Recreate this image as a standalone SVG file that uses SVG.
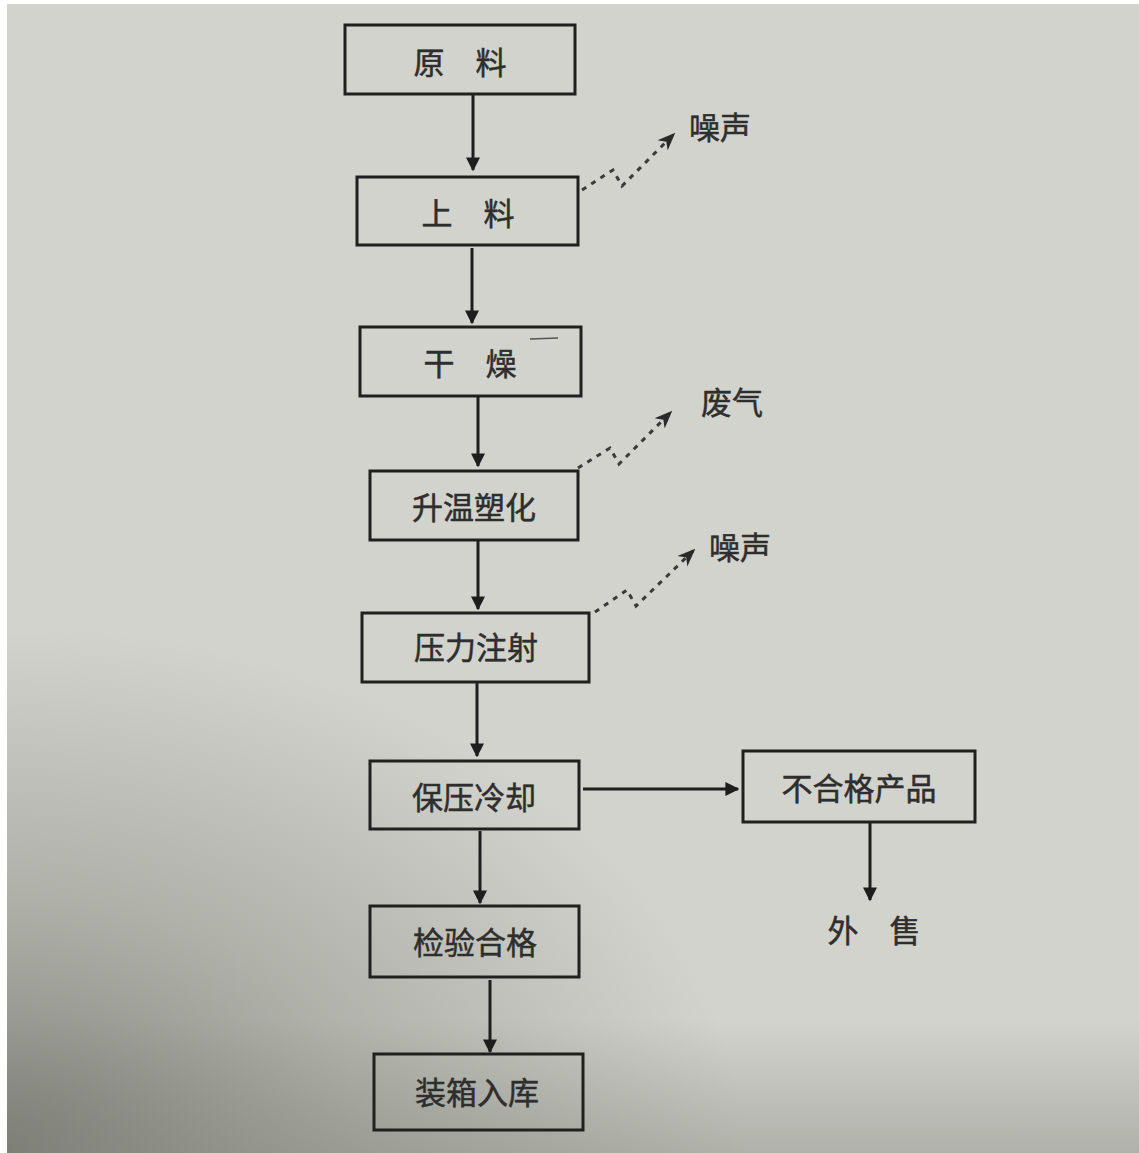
<svg xmlns="http://www.w3.org/2000/svg" width="1139" height="1153" viewBox="0 0 1139 1153">
<defs>
<radialGradient id="shade" cx="0" cy="1153" r="620" gradientUnits="userSpaceOnUse" gradientTransform="translate(0 1153) scale(1.2 0.85) translate(0 -1153)">
<stop offset="0" stop-color="#6f7069" stop-opacity="0.85"/>
<stop offset="0.5" stop-color="#7d7e76" stop-opacity="0.4"/>
<stop offset="1" stop-color="#7d7e76" stop-opacity="0"/>
</radialGradient>
<linearGradient id="bottom" x1="0" y1="1020" x2="0" y2="1153" gradientUnits="userSpaceOnUse">
<stop offset="0" stop-color="#7d7e76" stop-opacity="0"/>
<stop offset="1" stop-color="#7d7e76" stop-opacity="0.4"/>
</linearGradient>
<marker id="ah" viewBox="0 0 10 10" refX="9" refY="5" markerWidth="14" markerHeight="14" markerUnits="userSpaceOnUse" orient="auto">
<path d="M0,0 L10,5 L0,10 Z" fill="#1e1e1e"/>
</marker>
<marker id="ahd" viewBox="0 0 10 10" refX="9" refY="5" markerWidth="18" markerHeight="18" markerUnits="userSpaceOnUse" orient="auto">
<path d="M0,1 L10,5 L0,9 L3,5 Z" fill="#2a2a2a"/>
</marker>
<style>
.box{fill:none;stroke:#202020;stroke-width:3}
.t{font-family:"Noto Sans CJK SC","Noto Sans CJK JP",sans-serif;font-size:31px;fill:#2e2e2e;stroke:#2e2e2e;stroke-width:0.5;text-anchor:middle;dominant-baseline:central}
.ln{stroke:#1e1e1e;stroke-width:3;fill:none;marker-end:url(#ah)}
.dl{stroke:#3a3a3a;stroke-width:3;fill:none;stroke-dasharray:5 6;marker-end:url(#ahd)}
</style>
</defs>
<rect x="0" y="0" width="1139" height="1153" fill="#ffffff"/>
<rect x="7" y="4" width="1132" height="1149" fill="#d2d3cc"/>
<rect x="7" y="4" width="1132" height="1149" fill="url(#shade)"/>
<rect x="7" y="1020" width="1132" height="133" fill="url(#bottom)"/>

<g id="connectors">
<line class="ln" x1="473" y1="95" x2="473" y2="170"/>
<line class="ln" x1="472" y1="248" x2="472" y2="323"/>
<line class="ln" x1="478" y1="397" x2="478" y2="466"/>
<line class="ln" x1="478" y1="541" x2="478" y2="609"/>
<line class="ln" x1="477" y1="683" x2="477" y2="756"/>
<line class="ln" x1="583" y1="789" x2="738" y2="789"/>
<line class="ln" x1="870" y1="823" x2="870" y2="900"/>
<line class="ln" x1="480" y1="831" x2="480" y2="903"/>
<line class="ln" x1="490" y1="980" x2="490" y2="1052"/>
<polyline class="dl" points="582,190 613,170 622,186 674,134"/>
<polyline class="dl" points="578,468 610,448 619,464 671,412"/>
<polyline class="dl" points="595,612 627,590 636,606 694,550"/>
<line x1="530" y1="339" x2="558" y2="338" stroke="#555" stroke-width="1.5"/>
</g>

<g id="n1"><rect class="box" x="345" y="25" width="230" height="69"/><text class="t" x="460" y="60">原　料</text></g>
<g id="n2"><rect class="box" x="357" y="177" width="221" height="68"/><text class="t" x="468" y="211">上　料</text></g>
<g id="n3"><rect class="box" x="360" y="327" width="221" height="69"/><text class="t" x="470" y="361">干　燥</text></g>
<g id="n4"><rect class="box" x="370" y="471" width="208" height="69"/><text class="t" x="474" y="505">升温塑化</text></g>
<g id="n5"><rect class="box" x="362" y="613" width="227" height="69"/><text class="t" x="476" y="645">压力注射</text></g>
<g id="n6"><rect class="box" x="370" y="761" width="209" height="68"/><text class="t" x="474" y="795">保压冷却</text></g>
<g id="n7"><rect class="box" x="743" y="751" width="232" height="71"/><text class="t" x="859" y="786">不合格产品</text></g>
<g id="n8"><rect class="box" x="370" y="906" width="209" height="71"/><text class="t" x="475" y="940">检验合格</text></g>
<g id="n9"><rect class="box" x="374" y="1054" width="209" height="76"/><text class="t" x="477" y="1090">装箱入库</text></g>
<g id="n10"><text class="t" x="874" y="928">外　售</text></g>
<g id="n11"><text class="t" x="720" y="125">噪声</text></g>
<g id="n12"><text class="t" x="732" y="400">废气</text></g>
<g id="n13"><text class="t" x="740" y="545">噪声</text></g>
</svg>
